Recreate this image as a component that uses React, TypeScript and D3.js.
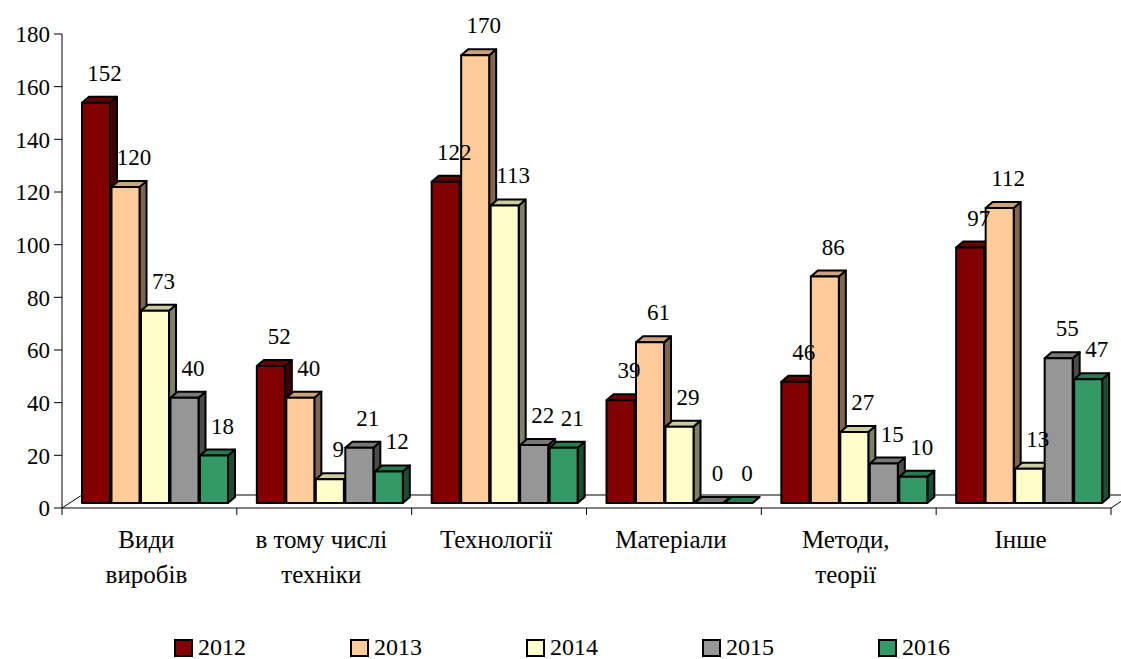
import React from "react";
import * as d3 from "d3";

const categories: string[][] = [
  ["Види", "виробів"],
  ["в тому числі", "техніки"],
  ["Технології"],
  ["Матеріали"],
  ["Методи,", "теорії"],
  ["Інше"],
];
const years = ["2012", "2013", "2014", "2015", "2016"];
const colors = ["#800000", "#FFCC99", "#FFFFCC", "#969696", "#339966"];
const values2012 = [152, 52, 122, 39, 46, 97];
const values2013 = [120, 40, 170, 61, 86, 112];
const values2014 = [73, 9, 113, 29, 27, 13];
const values2015 = [40, 21, 22, 0, 15, 55];
const values2016 = [18, 12, 21, 0, 10, 47];
const series = [values2012, values2013, values2014, values2015, values2016];
const yTicks = [0, 20, 40, 60, 80, 100, 120, 140, 160, 180];

const W = 1121;
const H = 659;
const FONT = "'Liberation Serif', 'Tinos', 'DejaVu Serif', serif";

function shade(c: string, k: number): string {
  const rgb = d3.rgb(c);
  return d3.rgb(rgb.r * k, rgb.g * k, rgb.b * k).formatHex();
}

export default function App() {
  const left = 62;
  const right = 1111;
  const y0 = 508;
  const yTop = 34;
  const floorDx = 20;
  const floorDy = -13;
  const barPlaneDx = 0;
  const barPlaneDy = -5;
  const depthDx = 7;
  const depthDy = -6;

  const catIdx = categories.map((_, i) => String(i));
  const x = d3.scaleBand<string>().domain(catIdx).range([left, right]);
  const inner = d3
    .scaleBand<string>()
    .domain(years)
    .range([20, 20 + 146])
    .paddingInner(0.05);
  const y = d3.scaleLinear().domain([0, 180]).range([y0, yTop]);

  const bars: React.ReactNode[] = [];
  const labels: React.ReactNode[] = [];
  catIdx.forEach((ci, c) => {
    years.forEach((yr, s) => {
      const v = series[s][c];
      const bx = (x(ci) as number) + (inner(yr) as number) + barPlaneDx;
      const bw = inner.bandwidth();
      const by = y(v) + barPlaneDy;
      const bb = y(0) + barPlaneDy;
      const col = colors[s];
      const top = `${bx},${by} ${bx + depthDx},${by + depthDy} ${bx + bw + depthDx},${by + depthDy} ${bx + bw},${by}`;
      const side = `${bx + bw},${by} ${bx + bw + depthDx},${by + depthDy} ${bx + bw + depthDx},${bb + depthDy} ${bx + bw},${bb}`;
      bars.push(
        <g key={`b-${c}-${s}`} stroke="#000" strokeWidth={2} strokeLinejoin="round">
          <polygon points={side} fill={shade(col, 0.5)} />
          <polygon points={top} fill={shade(col, 0.8)} />
          {v > 0 && <rect x={bx} y={by} width={bw} height={bb - by} fill={col} />}
        </g>
      );
      labels.push(
        <text
          key={`l-${c}-${s}`}
          x={bx + bw / 2 + depthDx / 2 + 5}
          y={by - 22}
          textAnchor="middle"
          fontSize={23}
          fontFamily={FONT}
          fill="#000"
        >
          {v}
        </text>
      );
    });
  });

  const legendX = d3.scaleBand<string>().domain(years).range([175, 175 + 5 * 176]);

  return (
    <svg
      width={W}
      height={H}
      style={{ position: "absolute", left: 0, top: 0, background: "#fff" }}
    >
      <rect x={0} y={0} width={W} height={H} fill="#fff" />
      <polygon
        points={`${left},${y0} ${right},${y0} ${right + floorDx},${y0 + floorDy} ${left + floorDx},${y0 + floorDy}`}
        fill="#fff"
        stroke="#000"
        strokeWidth={1}
      />
      <line x1={left} x2={left} y1={yTop} y2={y0} stroke="#000" strokeWidth={1} />
      {yTicks.map((t) => (
        <g key={`t-${t}`}>
          <line x1={left - 8} x2={left} y1={y(t)} y2={y(t)} stroke="#000" strokeWidth={1} />
          <text
            x={left - 12}
            y={y(t)}
            dy="0.36em"
            textAnchor="end"
            fontSize={23}
            fontFamily={FONT}
            fill="#000"
          >
            {t}
          </text>
        </g>
      ))}
      {catIdx.concat(["end"]).map((ci, i) => {
        const xx = ci === "end" ? right : (x(ci) as number);
        return (
          <line key={`xt-${i}`} x1={xx} x2={xx} y1={y0} y2={y0 + 7} stroke="#000" strokeWidth={1} />
        );
      })}
      {bars}
      {labels}
      {categories.map((lines, c) => (
        <text
          key={`c-${c}`}
          x={(x(String(c)) as number) + x.bandwidth() / 2 - 3}
          y={548}
          textAnchor="middle"
          fontSize={25}
          fontFamily={FONT}
          fill="#000"
        >
          {lines.map((ln, k) => (
            <tspan key={k} x={(x(String(c)) as number) + x.bandwidth() / 2 - 3} dy={k === 0 ? 0 : 35}>
              {ln}
            </tspan>
          ))}
        </text>
      ))}
      {years.map((yr, s) => {
        const lx = legendX(yr) as number;
        return (
          <g key={`lg-${yr}`}>
            <rect x={lx} y={640} width={17} height={16} fill={colors[s]} stroke="#000" strokeWidth={2} />
            <text x={lx + 23} y={655} fontSize={24} fontFamily={FONT} fill="#000">
              {yr}
            </text>
          </g>
        );
      })}
    </svg>
  );
}
